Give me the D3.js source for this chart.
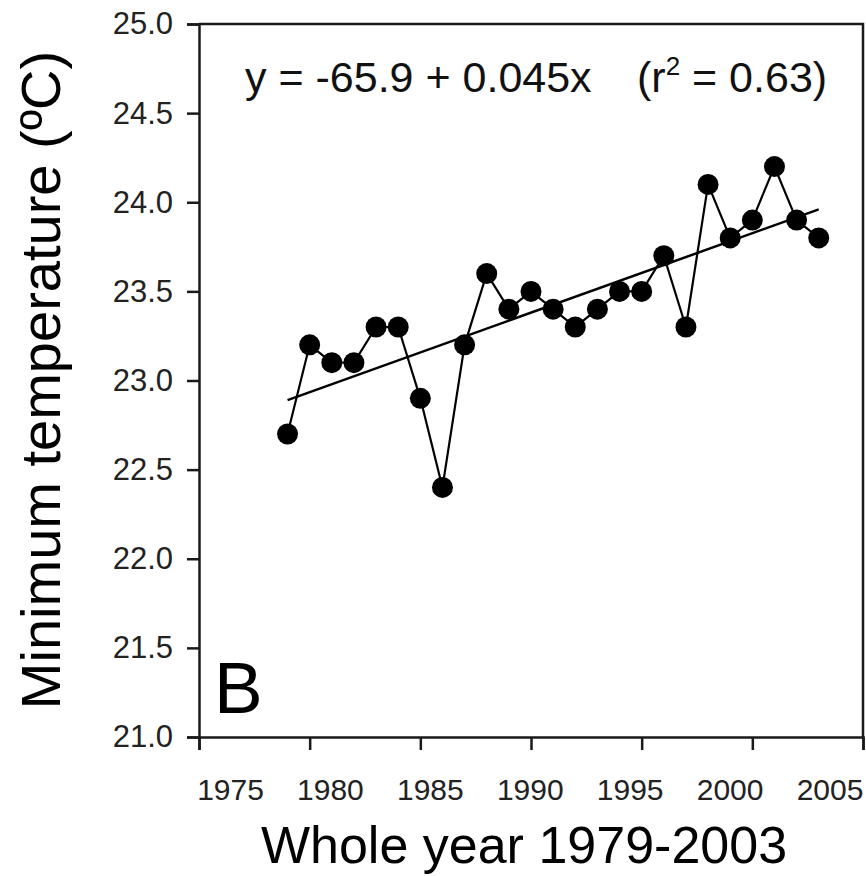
<!DOCTYPE html>
<html>
<head>
<meta charset="utf-8">
<script src="https://cdn.jsdelivr.net/npm/d3@7"></script>
<style>
  html, body { margin: 0; padding: 0; background: #fff; }
  svg { display: block; font-family: "Liberation Sans", Arial, Helvetica, sans-serif; }
  text { white-space: pre; }
</style>
</head>
<body>
<div id="chart"></div>
<script>
"use strict";

// == data ==
var years = [1979, 1980, 1981, 1982, 1983, 1984, 1985, 1986, 1987, 1988, 1989, 1990,
             1991, 1992, 1993, 1994, 1995, 1996, 1997, 1998, 1999, 2000, 2001, 2002, 2003];
var minTemp = [22.7, 23.2, 23.1, 23.1, 23.3, 23.3, 22.9, 22.4, 23.2, 23.6, 23.4, 23.5,
               23.4, 23.3, 23.4, 23.5, 23.5, 23.7, 23.3, 24.1, 23.8, 23.9, 24.2, 23.9, 23.8];
var trendYears = [1979, 2003];
var trendValues = [22.89, 23.96];
var yTicks = [21.0, 21.5, 22.0, 22.5, 23.0, 23.5, 24.0, 24.5, 25.0];
var xTicks = [1975, 1980, 1985, 1990, 1995, 2000, 2005];
var xTickLabels = ["1975", "1980", "1985", "1990", "1995", "2000", "2005"];

var width = 866, height = 876;
var plot = { left: 199, right: 863, top: 24, bottom: 737 };

var svg = d3.select("#chart").append("svg")
    .attr("width", width)
    .attr("height", height);

var x = d3.scaleLinear().domain([1975, 2005]).range([plot.left, plot.right]);
var y = d3.scaleLinear().domain([21, 25]).range([plot.bottom, plot.top]);
// tick labels in the original sit off their ticks, drifting to the left
var xLab = d3.scaleLinear().domain([1975, 2005]).range([230, 829.5]);

var ink = "#1a1a1a";

// frame (top and right)
svg.append("path")
   .attr("d", "M" + plot.left + "," + plot.top + "H" + plot.right + "V" + plot.bottom)
   .attr("fill", "none")
   .attr("stroke", ink)
   .attr("stroke-width", 2.5);

// y axis
var yAxis = svg.append("g")
   .attr("transform", "translate(" + plot.left + ",0)")
   .call(d3.axisLeft(y).tickValues(yTicks).tickFormat(d3.format(".1f")).tickSize(12).tickPadding(14));
yAxis.select(".domain").attr("stroke", ink).attr("stroke-width", 2.5);
yAxis.selectAll(".tick line").attr("stroke", ink).attr("stroke-width", 2.5);
yAxis.selectAll(".tick text")
   .attr("font-size", 31)
   .attr("font-family", "Liberation Sans, Arial, sans-serif")
   .attr("fill", "#222");

// x axis (ticks only)
var xAxis = svg.append("g")
   .attr("transform", "translate(0," + plot.bottom + ")")
   .call(d3.axisBottom(x).tickValues(xTicks).tickSize(13).tickFormat(""));
xAxis.select(".domain").attr("stroke", ink).attr("stroke-width", 2.5);
xAxis.selectAll(".tick line").attr("stroke", ink).attr("stroke-width", 2.5);

// x tick labels
var xLabAxis = svg.append("g")
   .attr("transform", "translate(0," + plot.bottom + ")")
   .call(d3.axisBottom(xLab).tickValues(xTicks).tickSize(0).tickPadding(42)
         .tickFormat(function (d, i) { return xTickLabels[i]; }));
xLabAxis.select(".domain").remove();
xLabAxis.selectAll(".tick text")
   .attr("font-size", 30)
   .attr("font-family", "Liberation Sans, Arial, sans-serif")
   .attr("fill", "#222");

// regression line
var trend = trendYears.map(function (yr, i) { return { year: yr, value: trendValues[i] }; });
svg.append("path")
   .datum(trend)
   .attr("d", d3.line().x(function (d) { return x(d.year); }).y(function (d) { return y(d.value); }))
   .attr("fill", "none")
   .attr("stroke", "#000")
   .attr("stroke-width", 2.5);

// data line + points
var series = years.map(function (yr, i) { return { year: yr, value: minTemp[i] }; });
svg.append("path")
   .datum(series)
   .attr("d", d3.line().x(function (d) { return x(d.year); }).y(function (d) { return y(d.value); }))
   .attr("fill", "none")
   .attr("stroke", "#000")
   .attr("stroke-width", 2.2);

svg.selectAll("circle.pt")
   .data(series)
   .enter()
   .append("circle")
   .attr("class", "pt")
   .attr("cx", function (d) { return x(d.year); })
   .attr("cy", function (d) { return y(d.value); })
   .attr("r", 10.5)
   .attr("fill", "#000");

// equation
svg.append("text")
   .attr("x", 245).attr("y", 92)
   .attr("font-size", 43)
   .attr("fill", "#111")
   .text("y = -65.9 + 0.045x");
var r2 = svg.append("text")
   .attr("x", 637).attr("y", 92)
   .attr("font-size", 43)
   .attr("fill", "#111");
r2.append("tspan").text("(r");
r2.append("tspan").attr("font-size", 26).attr("dy", -17).text("2");
r2.append("tspan").attr("dy", 17).text(" = 0.63)");

// panel letter
svg.append("text")
   .attr("x", 214).attr("y", 713)
   .attr("font-size", 73)
   .attr("fill", "#000")
   .text("B");

// axis titles
svg.append("text")
   .attr("transform", "translate(60," + 380 + ") rotate(-90)")
   .attr("text-anchor", "middle")
   .attr("font-size", 56)
   .attr("fill", "#000")
   .text("Minimum temperature (ºC)");

svg.append("text")
   .attr("x", 524).attr("y", 863)
   .attr("text-anchor", "middle")
   .attr("font-size", 52)
   .attr("fill", "#000")
   .text("Whole year 1979-2003");
</script>
</body>
</html>
